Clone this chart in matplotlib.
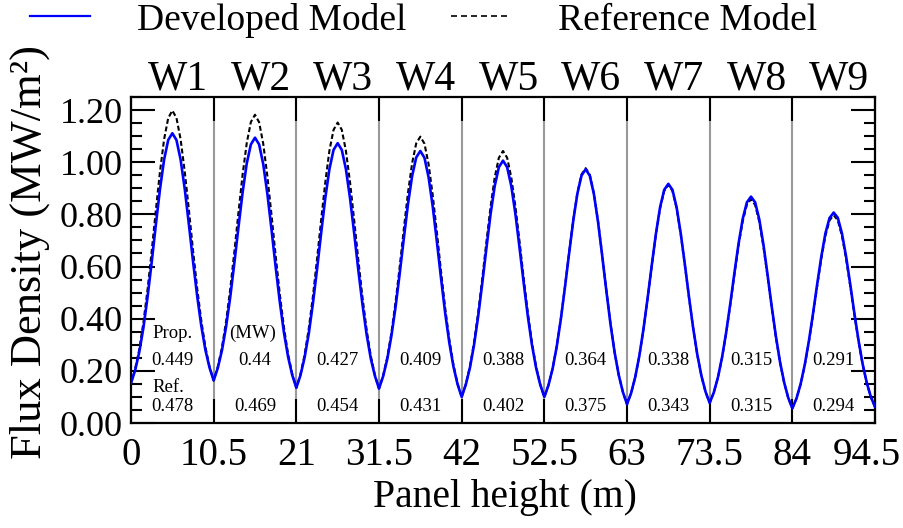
import matplotlib
matplotlib.use("Agg")
import matplotlib.pyplot as plt
import numpy as np
from matplotlib.lines import Line2D
from matplotlib.ticker import MultipleLocator
from matplotlib.transforms import ScaledTranslation, blended_transform_factory

# ---------------- data ----------------
# Panel boundaries (m) and wall labels
boundaries = [0, 10.5, 21, 31.5, 42, 52.5, 63, 73.5, 84, 94.5]
wall_labels = ["W1", "W2", "W3", "W4", "W5", "W6", "W7", "W8", "W9"]

# Flux density (MW/m^2) sampled every 0.525 m along the panel height (181 samples)
developed = [
    # W1
    0.153, 0.202, 0.272, 0.365, 0.482, 0.616, 0.759, 0.895, 1.009, 1.085, 1.111,
    1.085, 1.010, 0.898, 0.762, 0.621, 0.488, 0.373, 0.280, 0.212,
    # W2
    0.163, 0.211, 0.278, 0.369, 0.482, 0.613, 0.751, 0.884, 0.995, 1.068, 1.094,
    1.068, 0.992, 0.878, 0.741, 0.598, 0.464, 0.347, 0.254, 0.184,
    # W3
    0.135, 0.183, 0.251, 0.342, 0.457, 0.588, 0.728, 0.862, 0.973, 1.047, 1.073,
    1.047, 0.973, 0.861, 0.727, 0.586, 0.455, 0.340, 0.248, 0.181,
    # W4
    0.132, 0.179, 0.245, 0.334, 0.444, 0.572, 0.707, 0.838, 0.946, 1.018, 1.043,
    1.017, 0.942, 0.830, 0.696, 0.556, 0.423, 0.309, 0.217, 0.149,
    # W5
    0.100, 0.147, 0.212, 0.300, 0.410, 0.538, 0.672, 0.802, 0.909, 0.981, 1.006,
    0.981, 0.909, 0.802, 0.672, 0.538, 0.410, 0.300, 0.212, 0.147,
    # W6
    0.100, 0.145, 0.208, 0.293, 0.399, 0.522, 0.651, 0.776, 0.880, 0.949, 0.973,
    0.948, 0.877, 0.770, 0.641, 0.507, 0.380, 0.271, 0.184, 0.119,
    # W7
    0.072, 0.115, 0.177, 0.259, 0.362, 0.480, 0.606, 0.726, 0.827, 0.894, 0.917,
    0.894, 0.827, 0.727, 0.608, 0.483, 0.365, 0.263, 0.181, 0.120,
    # W8
    0.077, 0.117, 0.175, 0.252, 0.348, 0.459, 0.577, 0.689, 0.783, 0.846, 0.868,
    0.846, 0.781, 0.685, 0.569, 0.448, 0.335, 0.236, 0.157, 0.097,
    # W9
    0.056, 0.094, 0.149, 0.223, 0.314, 0.419, 0.531, 0.637, 0.727, 0.786, 0.807,
    0.787, 0.727, 0.639, 0.533, 0.422, 0.318, 0.227, 0.155, 0.100,
    0.062,
]

reference = [
    # W1
    0.153, 0.207, 0.282, 0.385, 0.511, 0.658, 0.814, 0.962, 1.087, 1.169, 1.198,
    1.170, 1.088, 0.964, 0.818, 0.663, 0.518, 0.393, 0.291, 0.216,
    # W2
    0.163, 0.216, 0.289, 0.389, 0.512, 0.656, 0.807, 0.952, 1.073, 1.154, 1.182,
    1.153, 1.070, 0.945, 0.797, 0.641, 0.494, 0.367, 0.264, 0.189,
    # W3
    0.135, 0.187, 0.261, 0.361, 0.484, 0.627, 0.778, 0.922, 1.044, 1.124, 1.152,
    1.124, 1.043, 0.922, 0.777, 0.625, 0.482, 0.358, 0.258, 0.185,
    # W4
    0.132, 0.182, 0.252, 0.345, 0.463, 0.598, 0.743, 0.881, 0.995, 1.072, 1.098,
    1.071, 0.992, 0.873, 0.731, 0.582, 0.442, 0.321, 0.224, 0.151,
    # W5
    0.100, 0.149, 0.217, 0.309, 0.423, 0.556, 0.696, 0.830, 0.942, 1.017, 1.043,
    1.017, 0.942, 0.830, 0.696, 0.556, 0.423, 0.309, 0.217, 0.149,
    # W6
    0.100, 0.145, 0.209, 0.294, 0.400, 0.524, 0.654, 0.779, 0.883, 0.953, 0.977,
    0.952, 0.880, 0.773, 0.644, 0.509, 0.382, 0.272, 0.184, 0.119,
    # W7
    0.072, 0.115, 0.176, 0.258, 0.361, 0.478, 0.604, 0.723, 0.823, 0.890, 0.913,
    0.890, 0.824, 0.724, 0.605, 0.481, 0.364, 0.262, 0.181, 0.119,
    # W8
    0.077, 0.117, 0.174, 0.250, 0.345, 0.454, 0.571, 0.682, 0.774, 0.837, 0.858,
    0.836, 0.772, 0.677, 0.563, 0.444, 0.331, 0.234, 0.156, 0.097,
    # W9
    0.056, 0.094, 0.148, 0.220, 0.310, 0.414, 0.524, 0.630, 0.718, 0.777, 0.797,
    0.777, 0.718, 0.631, 0.526, 0.417, 0.314, 0.225, 0.153, 0.099,
    0.062,
]

# Absorbed power per wall (MW)
prop_power = ["0.449", "0.44", "0.427", "0.409", "0.388", "0.364", "0.338", "0.315", "0.291"]
ref_power = ["0.478", "0.469", "0.454", "0.431", "0.402", "0.375", "0.343", "0.315", "0.294"]

x_tick_labels = ["0", "10.5", "21", "31.5", "42", "52.5", "63", "73.5", "84", "94.5"]
y_ticks = [0.0, 0.2, 0.4, 0.6, 0.8, 1.0, 1.2]
y_tick_labels = ["0.00", "0.20", "0.40", "0.60", "0.80", "1.00", "1.20"]

# ---------------- figure ----------------
plt.rcParams["font.family"] = ["Liberation Serif", "DejaVu Serif"]

W, H = 904, 528
fig = plt.figure(figsize=(W / 100, H / 100), dpi=100)
ax = fig.add_axes([131 / W, 1 - 423 / H, 744 / W, 326 / H])

x = np.linspace(boundaries[0], boundaries[-1], len(developed))

for b in boundaries[1:-1]:
    ax.axvline(b, color="#999999", lw=1.5, zorder=1)

ax.plot(x, reference, color="black", lw=1.5, ls=(0, (2.4, 1.3)), zorder=3)
ax.plot(x, developed, color="#0000ff", lw=1.9, zorder=4)

ax.set_xlim(boundaries[0], boundaries[-1])
ax.set_ylim(0, 1.25)
ax.set_xticks(boundaries)
ax.set_xticklabels(x_tick_labels)
ax.set_yticks(y_ticks)
ax.set_yticklabels(y_tick_labels)
ax.yaxis.set_minor_locator(MultipleLocator(0.05))

ax.tick_params(which="major", direction="in", length=17, width=1.5,
               top=True, right=True, bottom=True, left=True, color="black")
ax.tick_params(which="minor", direction="in", length=8, width=1.5,
               left=True, right=True)
ax.tick_params(axis="x", labelsize=28, pad=10)
ax.tick_params(axis="y", labelsize=26, pad=6)
for s in ax.spines.values():
    s.set_linewidth(1.6)

# shift the last x tick label a bit left so it stays inside the figure
last = ax.get_xticklabels()[-1]
last.set_transform(last.get_transform() + ScaledTranslation(-8 / 100, 0, fig.dpi_scale_trans))

ax.set_xlabel("Panel height (m)", fontsize=28.5)
ax.xaxis.set_label_coords(0.502, -0.227)
ax.xaxis.label.set_va("center")
ax.set_ylabel("Flux Density (MW/m²)", fontsize=32)
ax.yaxis.set_label_coords(-0.1358, 0.525)
ax.yaxis.label.set_va("center")

# wall labels above the axes
centers = [(a + b) / 2 for a, b in zip(boundaries[:-1], boundaries[1:])]
trans = blended_transform_factory(ax.transData, ax.transAxes)
for c, lab in zip(centers, wall_labels):
    ax.text(c + 0.7, 1 + 7 / 326, lab, transform=trans, ha="center",
            va="baseline", fontsize=30)

# power annotations
fs_ann = 13.5
for c, p, r in zip(centers, prop_power, ref_power):
    ax.text(c, 0.241, p, ha="center", va="center", fontsize=fs_ann, zorder=5)
    ax.text(c, 0.062, r, ha="center", va="center", fontsize=fs_ann, zorder=5)
ax.text(2.7, 0.344, "Prop.", ha="left", va="center", fontsize=fs_ann)
ax.text(centers[1] - 0.35, 0.344, "(MW)", ha="center", va="center", fontsize=fs_ann)
ax.text(2.7, 0.136, "Ref.", ha="left", va="center", fontsize=fs_ann)

# legend
handles = [Line2D([], [], color="#0000ff", lw=1.6),
           Line2D([], [], color="black", lw=1.2, ls=(0, (3.6, 2.4)))]
fig.legend(handles, ["Developed Model", "Reference Model"], loc="center left",
           bbox_to_anchor=(30 / W, 1 - 20 / H), ncol=2, frameon=False,
           fontsize=27, handlelength=1.6, handletextpad=1.25,
           columnspacing=1.2, borderpad=0, borderaxespad=0)

fig.savefig("out.png", dpi=100)
